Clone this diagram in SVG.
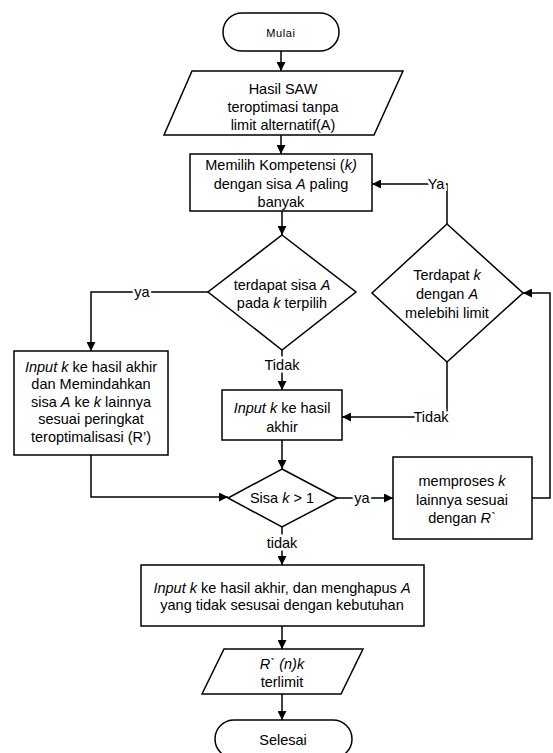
<svg xmlns="http://www.w3.org/2000/svg" width="553" height="753" viewBox="0 0 553 753">
<style>
.s{fill:#fff;stroke:#000;stroke-width:1.5}
.c{fill:none;stroke:#000;stroke-width:1.5}
text{font-family:"Liberation Sans",Arial,sans-serif;font-size:14.5px;fill:#000;text-anchor:middle}
.lb{stroke:#fff;stroke-width:5;paint-order:stroke}
.i{font-style:italic}
</style>
<defs>
<marker id="ah" markerUnits="userSpaceOnUse" markerWidth="9" markerHeight="9" refX="9" refY="4.5" orient="auto"><path d="M0,0 L9,4.5 L0,9 z" fill="#000"/></marker>
</defs>
<rect width="553" height="753" fill="#fff"/>
<g id="connectors">
<path class="c" d="M281,51 V71" marker-end="url(#ah)"/>
<path class="c" d="M281,135 V154" marker-end="url(#ah)"/>
<path class="c" d="M282,211 V235" marker-end="url(#ah)"/>
<path class="c" d="M208,292 H91 V351" marker-end="url(#ah)"/>
<path class="c" d="M282,350 V390" marker-end="url(#ah)"/>
<path class="c" d="M447,224 V184 H372" marker-end="url(#ah)"/>
<path class="c" d="M447,362 V417 H342" marker-end="url(#ah)"/>
<path class="c" d="M282,440 V469" marker-end="url(#ah)"/>
<path class="c" d="M91,455 V497 H228" marker-end="url(#ah)"/>
<path class="c" d="M337,498 H393" marker-end="url(#ah)"/>
<path class="c" d="M532,498 H550 V293 H523" marker-end="url(#ah)"/>
<path class="c" d="M282,527 V565" marker-end="url(#ah)"/>
<path class="c" d="M282,626 V649" marker-end="url(#ah)"/>
<path class="c" d="M282,694 V720" marker-end="url(#ah)"/>
<text class="lb" x="142" y="297">ya</text>
<text class="lb" x="282" y="370">Tidak</text>
<text class="lb" x="436" y="189">Ya</text>
<text class="lb" x="431" y="422">Tidak</text>
<text class="lb" x="362" y="503">ya</text>
<text class="lb" x="282" y="548">tidak</text>
</g>
<g id="mulai">
<rect class="s" x="223" y="13" width="116" height="38" rx="19"/>
<text x="281" y="37" style="font-size:11px;letter-spacing:0.6px">Mulai</text>
</g>
<g id="input-saw">
<polygon class="s" points="192,71 403,71 374,135 164,135"/>
<text x="283" y="94">Hasil SAW</text>
<text x="283" y="112">teroptimasi tanpa</text>
<text x="283" y="130">limit alternatif(A)</text>
</g>
<g id="memilih">
<rect class="s" x="190" y="154" width="182" height="57"/>
<text x="281" y="170">Memilih Kompetensi (<tspan class="i">k)</tspan></text>
<text x="281" y="189">dengan sisa <tspan class="i">A</tspan> paling</text>
<text x="281" y="207">banyak</text>
</g>
<g id="cek-sisa">
<polygon class="s" points="282,235 356,292 282,350 208,292"/>
<text x="282" y="290">terdapat sisa <tspan class="i">A</tspan></text>
<text x="282" y="308">pada <tspan class="i">k</tspan> terpilih</text>
</g>
<g id="pindah">
<rect class="s" x="14" y="351" width="154" height="104"/>
<text x="91" y="372"><tspan class="i">Input k</tspan> ke hasil akhir</text>
<text x="91" y="389">dan Memindahkan</text>
<text x="91" y="407">sisa <tspan class="i">A</tspan> ke <tspan class="i">k</tspan> lainnya</text>
<text x="91" y="424">sesuai peringkat</text>
<text x="91" y="442">teroptimalisasi (R’)</text>
</g>
<g id="input-hasil">
<rect class="s" x="222" y="390" width="120" height="50"/>
<text x="282" y="413"><tspan class="i">Input k</tspan> ke hasil</text>
<text x="282" y="432">akhir</text>
</g>
<g id="cek-limit">
<polygon class="s" points="447,224 523,293 447,362 372,293"/>
<text x="447" y="280">Terdapat <tspan class="i">k</tspan></text>
<text x="447" y="299">dengan <tspan class="i">A</tspan></text>
<text x="447" y="318">melebihi limit</text>
</g>
<g id="cek-sisa-k">
<polygon class="s" points="282,469 337,498 282,527 228,498"/>
<text x="282" y="503">Sisa <tspan class="i">k</tspan> &gt; 1</text>
</g>
<g id="memproses">
<rect class="s" x="393" y="457" width="139" height="82"/>
<text x="462" y="486">memproses <tspan class="i">k</tspan></text>
<text x="462" y="505">lainnya sesuai</text>
<text x="462" y="523">dengan <tspan class="i">R`</tspan></text>
</g>
<g id="hapus">
<rect class="s" x="141" y="565" width="283" height="61"/>
<text x="282" y="593"><tspan class="i">Input k</tspan> ke hasil akhir, dan menghapus <tspan class="i">A</tspan></text>
<text x="282" y="610">yang tidak sesusai dengan kebutuhan</text>
</g>
<g id="output">
<polygon class="s" points="224,649 363,649 341,694 202,694"/>
<text x="282" y="669" class="i">R` (n)k</text>
<text x="282" y="687">terlimit</text>
</g>
<g id="selesai">
<rect class="s" x="215" y="720" width="137" height="38" rx="19"/>
<text x="283" y="745">Selesai</text>
</g>
</svg>
